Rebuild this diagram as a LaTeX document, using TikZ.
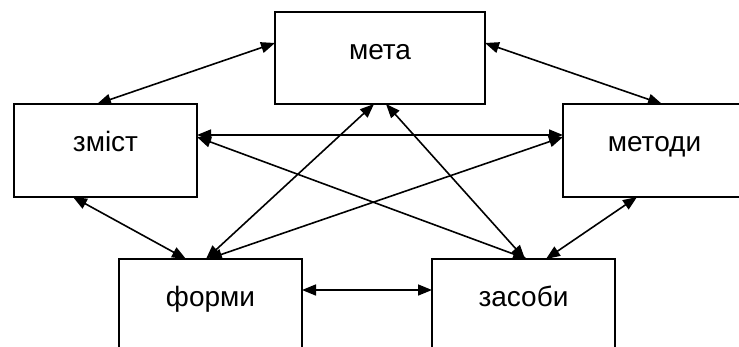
\documentclass[tikz,border=0pt]{standalone}
\usepackage{fontspec}
\setmainfont{Liberation Sans}
\usetikzlibrary{arrows.meta,calc}
\begin{document}
\begin{tikzpicture}[x=1pt,y=-1pt,
  box/.style={draw, line width=1.8pt, minimum width=183pt, minimum height=93pt,
    inner sep=0pt, outer sep=0pt, anchor=north west,
    font=\fontsize{28}{30}\selectfont, text height=20pt, text depth=18pt},
  link/.style={line width=1.6pt,
    {Triangle[length=14pt,width=11pt]}-{Triangle[length=14pt,width=11pt]}}]
\useasboundingbox (0,0) rectangle (739,346);
\fill[white] (0,0) rectangle (739,346);
\clip (0,0) rectangle (739,346);
\node[box] (zmist) at (14,104) {зміст};
\node[box, minimum width=210pt, minimum height=92pt] (meta) at (275,12) {мета};
\node[box] (metody) at (563,104) {методи};
\node[box] (formy) at (119,259) {форми};
\node[box] (zasoby) at (432,259) {засоби};
\draw[link] ($(meta.north west)+(0,31)$) -- ($(zmist.north west)+(83,0)$);
\draw[link] ($(meta.north east)+(0,31)$) -- ($(metody.north west)+(99,0)$);
\draw[link] ($(zmist.north east)+(0,31)$) -- ($(metody.north west)+(0,31)$);
\draw[link] ($(zmist.north east)+(0,33)$) -- ($(zasoby.north west)+(95,0)$);
\draw[link] ($(metody.north west)+(0,33)$) -- ($(formy.north west)+(89,0)$);
\draw[link] ($(meta.south west)+(99,0)$) -- ($(formy.north west)+(87,0)$);
\draw[link] ($(meta.south west)+(111,0)$) -- ($(zasoby.north west)+(93,0)$);
\draw[link] ($(metody.south west)+(74,0)$) -- ($(zasoby.north west)+(114,0)$);
\draw[link] ($(zmist.south west)+(59,0)$) -- ($(formy.north west)+(67,0)$);
\draw[link] ($(formy.north east)+(0,31)$) -- ($(zasoby.north west)+(0,31)$);
\end{tikzpicture}
\end{document}
